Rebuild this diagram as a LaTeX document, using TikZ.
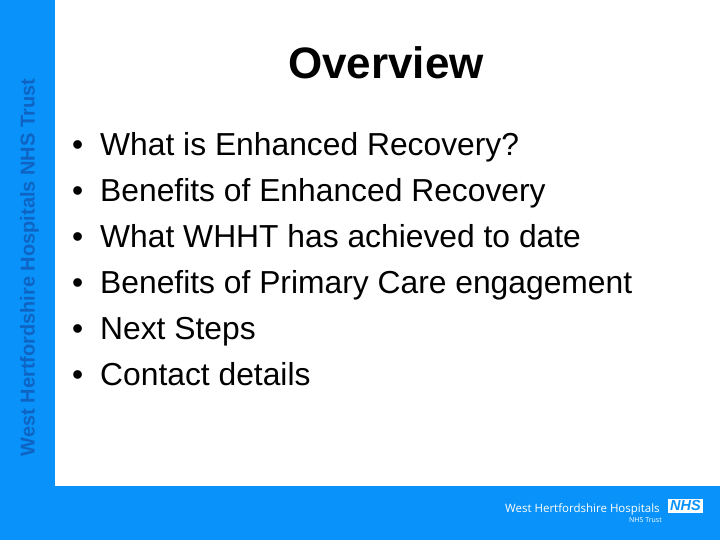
\documentclass[tikz,border=0pt]{standalone}
\usepackage{fontspec}
\setmainfont{Liberation Sans}
\newfontfamily\sidefont{Open Sans}
\definecolor{nhsblue}{RGB}{8,146,250}
\definecolor{sideblue}{RGB}{15,100,195}
\tikzset{
  bullettext/.style={anchor=base west,inner sep=0pt,font=\fontsize{31.8pt}{34pt}\selectfont,text=black},
  bulletmark/.style={anchor=base west,inner sep=0pt,font=\fontsize{31.8pt}{34pt}\selectfont,text=black}
}
\begin{document}
\begin{tikzpicture}[x=1pt,y=-1pt]
\useasboundingbox (0,0) rectangle (720,540);
\fill[white] (0,0) rectangle (720,540);
\fill[nhsblue] (0,0) rectangle (55,540);
\fill[nhsblue] (0,486) rectangle (720,540);
\node[rotate=90,anchor=base,inner sep=0pt,text=sideblue,font=\bfseries\fontsize{20pt}{22pt}\selectfont] (side) at (34.5,267.5) {West Hertfordshire Hospitals NHS Trust};
\node[anchor=base,inner sep=0pt,font=\bfseries\fontsize{44pt}{48pt}\selectfont] (title) at (386,79) {Overview};
\foreach \n/\yy/\t in {a/155.7/What is Enhanced Recovery?,b/201.7/Benefits of Enhanced Recovery,c/247.7/What WHHT has achieved to date,d/293.4/Benefits of Primary Care engagement,e/339.4/Next Steps,f/385.4/Contact details}{
  \node[bulletmark] (m\n) at (72,\yy) {•};
  \node[bullettext] (t\n) at (100,\yy) {\t};
}
\node[anchor=base west,inner sep=0pt,text=white,font=\sidefont\fontsize{11.5pt}{13pt}\selectfont] (logo) at (505,512) {West Hertfordshire Hospitals};
\fill[white] (668,499) rectangle (703,513);
\node[anchor=center,inner sep=0pt,text=nhsblue,font=\bfseries\itshape\fontsize{14.5pt}{14pt}\selectfont] (nhs) at (685.5,506) {NHS};
\node[anchor=base east,inner sep=0pt,text=white,font=\sidefont\fontsize{7pt}{8pt}\selectfont] (trust) at (662,522) {NHS Trust};
\end{tikzpicture}
\end{document}
